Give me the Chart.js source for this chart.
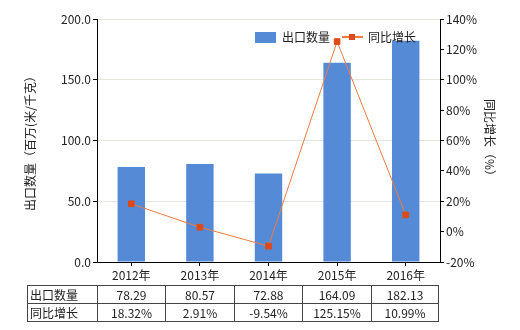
<!DOCTYPE html>
<html>
<head>
<meta charset="utf-8">
<script src="https://cdn.jsdelivr.net/npm/chart.js@4/dist/chart.umd.min.js"></script>
<style>
    html, body { margin: 0; padding: 0; background: #fff; }
    #wrap { position: relative; width: 520px; height: 330px; }
    #tabla {
        position: absolute; left: 27px; top: 285px;
        border-collapse: collapse;
        font-family: "Noto Sans CJK SC", "Noto Sans", sans-serif;
        font-size: 12px; color: #222;
    }
    #tabla td { border: 1px solid #444; height: 17px; padding: 0; text-align: center; line-height: 17px; }
    #tabla td.cab { text-align: left; padding-left: 2px; }
</style>
</head>
<body>
<div id="wrap">
    <canvas id="grafica" width="520" height="330"></canvas>
    <table id="tabla"></table>
</div>
<script>
const anios = ["2012年", "2013年", "2014年", "2015年", "2016年"];
const cantidad = [78.29, 80.57, 72.88, 164.09, 182.13];
const crecimiento = [18.32, 2.91, -9.54, 125.15, 10.99];
const textoCantidad = ["78.29", "80.57", "72.88", "164.09", "182.13"];
const textoCrecimiento = ["18.32%", "2.91%", "-9.54%", "125.15%", "10.99%"];

const colorBarra = "#558bd6";
const colorLinea = "#f07b3f";
const colorPunto = "#de4a17";
const fuente = '"Noto Sans CJK SC", "Noto Sans", sans-serif';

Chart.defaults.font.family = fuente;
Chart.defaults.font.size = 12;
Chart.defaults.color = "#222";

// leyenda dibujada a mano
const leyendaPlugin = {
    id: "leyenda",
    afterDraw(chart) {
        const ctx = chart.ctx;
        const y = 37;
        ctx.save();
        ctx.fillStyle = colorBarra;
        ctx.fillRect(255, 32, 21, 11);
        ctx.fillStyle = "#222";
        ctx.font = "12px " + fuente;
        ctx.textBaseline = "middle";
        ctx.fillText("出口数量", 282, y);
        ctx.strokeStyle = colorLinea;
        ctx.lineWidth = 2;
        ctx.beginPath();
        ctx.moveTo(342, y);
        ctx.lineTo(363, y);
        ctx.stroke();
        ctx.fillStyle = colorPunto;
        ctx.fillRect(349, y - 3, 6, 6);
        ctx.fillStyle = "#222";
        ctx.fillText("同比增长", 368, y);
        ctx.restore();
    }
};

new Chart(document.getElementById("grafica"), {
    data: {
        labels: anios,
        datasets: [
            {
                type: "line",
                label: "同比增长",
                data: crecimiento,
                yAxisID: "y2",
                borderColor: colorLinea,
                borderWidth: 1,
                pointStyle: "rect",
                pointRadius: 4,
                pointBackgroundColor: colorPunto,
                pointBorderColor: colorPunto,
                tension: 0
            },
            {
                type: "bar",
                label: "出口数量",
                data: cantidad,
                yAxisID: "y",
                backgroundColor: colorBarra,
                barPercentage: 0.4,
                categoryPercentage: 1
            }
        ]
    },
    options: {
        responsive: false,
        animation: false,
        layout: { padding: { top: 19, bottom: 45, left: 0, right: 0 } },
        plugins: { legend: { display: false }, tooltip: { enabled: false } },
        scales: {
            x: {
                offset: true,
                afterFit(scale) { scale.height = 23; },
                grid: { offset: false, drawOnChartArea: false, tickLength: 4, tickColor: "#000" },
                border: { color: "#000" },
                ticks: { padding: 2 }
            },
            y: {
                position: "left",
                min: 0,
                max: 200,
                afterFit(scale) { scale.width = 97; },
                ticks: { stepSize: 50, padding: 2, callback: v => v.toFixed(1) },
                grid: { color: "#e6e6dc", tickColor: "#000", tickLength: 4 },
                border: { color: "#000" },
                title: { display: true, text: "出口数量（百万(米/千克）", padding: { top: 23, bottom: 0 } }
            },
            y2: {
                position: "right",
                min: -20,
                max: 140,
                afterFit(scale) { scale.width = 80; },
                ticks: { stepSize: 20, padding: 2, callback: v => v + "%" },
                grid: { drawOnChartArea: false, tickColor: "#000", tickLength: 4 },
                border: { color: "#000" },
                title: { display: true, text: "同比增长（%）", padding: { top: 23, bottom: 0 } }
            }
        }
    },
    plugins: [leyendaPlugin]
});

// tabla de datos
const anchos = [70, 68, 69, 68, 69, 67];
const tabla = document.getElementById("tabla");
function fila(titulo, valores) {
    const tr = document.createElement("tr");
    const td0 = document.createElement("td");
    td0.className = "cab";
    td0.textContent = titulo;
    td0.style.width = (anchos[0] - 3) + "px";
    tr.appendChild(td0);
    valores.forEach((v, i) => {
        const td = document.createElement("td");
        td.textContent = v;
        td.style.width = (anchos[i + 1] - 1) + "px";
        tr.appendChild(td);
    });
    tabla.appendChild(tr);
}
fila("出口数量", textoCantidad);
fila("同比增长", textoCrecimiento);
</script>
</body>
</html>
